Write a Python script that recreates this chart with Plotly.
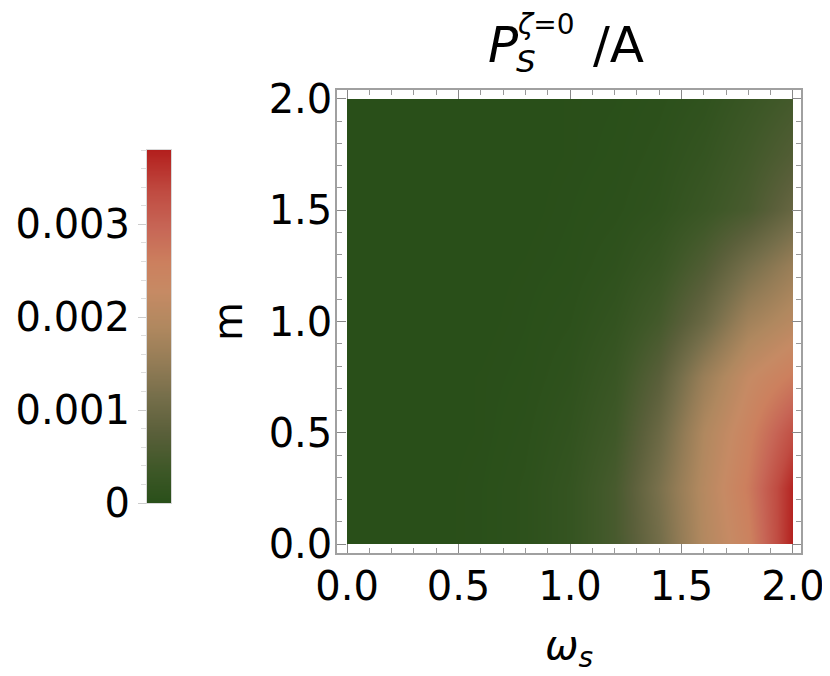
import numpy as np
import plotly.graph_objects as go

# grid, P_S / A in units of 1e-3
omega_s = [0.0, 0.2, 0.4, 0.6, 0.8, 1.0, 1.2, 1.4, 1.6, 1.8, 2.0]
m_vals = [0.0, 0.25, 0.5, 0.75, 1.0, 1.25, 1.5, 1.75, 2.0]
p_rows = [
    [0, 0, 0, 0.02, 0.07, 0.20, 0.50, 1.10, 1.95, 2.50, 3.80],  # m = 0
    [0, 0, 0, 0.02, 0.07, 0.20, 0.50, 1.20, 2.00, 2.65, 3.75],  # m = 0.25
    [0, 0, 0, 0.01, 0.05, 0.15, 0.38, 1.00, 1.90, 2.50, 3.30],  # m = 0.5
    [0, 0, 0, 0.01, 0.03, 0.10, 0.28, 0.75, 1.60, 2.25, 2.65],  # m = 0.75
    [0, 0, 0, 0.00, 0.02, 0.06, 0.18, 0.45, 1.00, 1.70, 2.05],  # m = 1.0
    [0, 0, 0, 0.00, 0.01, 0.03, 0.10, 0.26, 0.62, 1.15, 1.60],  # m = 1.25
    [0, 0, 0, 0.00, 0.00, 0.02, 0.05, 0.12, 0.30, 0.52, 0.95],  # m = 1.5
    [0, 0, 0, 0.00, 0.00, 0.01, 0.03, 0.08, 0.20, 0.40, 0.65],  # m = 1.75
    [0, 0, 0, 0.00, 0.00, 0.01, 0.02, 0.05, 0.12, 0.28, 0.45],  # m = 2.0
]
p_scale = 1e-3
z_max = 0.0038

cbar_tickvals = [0, 0.001, 0.002, 0.003]
cbar_ticktext = ["0", "0.001", "0.002", "0.003"]
axis_ticks = [0.0, 0.5, 1.0, 1.5, 2.0]

colorscale = [
    [0.0, "#294f19"], [0.1, "#3f5828"], [0.2, "#5a5f3a"], [0.3, "#756e4a"],
    [0.4, "#947c56"], [0.5, "#b0885f"], [0.6, "#c68a64"], [0.68, "#cc805e"],
    [0.78, "#c76656"], [0.88, "#c04c42"], [1.0, "#b31f1d"],
]

# the page puts the plot 8px in from the corner, so the figure is a bit smaller
OFF = 8
W, H = 830 - OFF, 676 - OFF
FONT = "DejaVu Sans"


def px_x(p):
    return (p - OFF) / W


def px_y(p):
    return 1 - (p - OFF) / H


z = np.array(p_rows) * p_scale

fig = go.Figure()

# the density itself, on its own axes so it is clipped to [0, 2]
fig.add_trace(go.Heatmap(
    x=omega_s, y=m_vals, z=z, zmin=0, zmax=z_max, zsmooth="best",
    colorscale=colorscale, showscale=False, hoverinfo="skip",
    xaxis="x", yaxis="y"))

# empty trace so the frame axes get drawn
fig.add_trace(go.Scatter(x=[], y=[], xaxis="x2", yaxis="y2", showlegend=False))

# colour bar drawn as a thin heatmap so its labels can sit on the left
levels = np.linspace(0, z_max, 300)
fig.add_trace(go.Heatmap(
    x=[0], y=levels, z=levels.reshape(-1, 1), zmin=0, zmax=z_max,
    zsmooth="best", colorscale=colorscale, showscale=False,
    hoverinfo="skip", xaxis="x3", yaxis="y3"))

frame_col = "#a0a0a0"
tick_font = dict(family=FONT, size=40, color="black")

fig.update_layout(
    width=W, height=H,
    margin=dict(l=0, r=0, t=0, b=0, pad=0),
    paper_bgcolor="white", plot_bgcolor="rgba(0,0,0,0)",
    showlegend=False,
    font=dict(family=FONT, color="black"),
    xaxis=dict(domain=[px_x(347), px_x(793)], range=[0, 2], visible=False,
               anchor="y", automargin=False),
    yaxis=dict(domain=[px_y(544), px_y(99)], range=[0, 2], visible=False,
               anchor="x", automargin=False),
    xaxis2=dict(domain=[px_x(337), px_x(801)], range=[-0.045, 2.036],
                anchor="y2", showline=True, linecolor=frame_col, linewidth=1.5,
                mirror="allticks", ticks="inside", ticklen=9, tickwidth=1.2,
                tickcolor="#888888", tickvals=axis_ticks,
                ticktext=["%.1f" % t for t in axis_ticks],
                minor=dict(dtick=0.1, tick0=0, ticks="inside", ticklen=5,
                           tickcolor="#999999", showgrid=False),
                showgrid=False, zeroline=False, tickfont=tick_font,
                ticklabelstandoff=-3, automargin=False),
    yaxis2=dict(domain=[px_y(553), px_y(90)], range=[-0.0404, 2.0404],
                anchor="x2", showline=True, linecolor=frame_col, linewidth=1.5,
                mirror="allticks", ticks="inside", ticklen=9, tickwidth=1.2,
                tickcolor="#888888", tickvals=axis_ticks,
                ticktext=["%.1f" % t for t in axis_ticks],
                minor=dict(dtick=0.1, tick0=0, ticks="inside", ticklen=5,
                           tickcolor="#999999", showgrid=False),
                showgrid=False, zeroline=False, tickfont=tick_font,
                ticklabelstandoff=-5, automargin=False),
    xaxis3=dict(domain=[px_x(147), px_x(171)], range=[-0.5, 0.5],
                anchor="y3", showline=True, mirror=True, linecolor="#d8d8d8",
                showticklabels=False, ticks="", showgrid=False, zeroline=False,
                automargin=False),
    yaxis3=dict(domain=[px_y(503), px_y(150)], range=[0, z_max],
                anchor="x3", side="left", showline=True, mirror=True,
                linecolor="#d8d8d8", ticks="outside", ticklen=8,
                tickcolor="#cccccc", tickvals=cbar_tickvals,
                ticktext=cbar_ticktext,
                minor=dict(dtick=0.0002, tick0=0, ticks="outside", ticklen=5,
                           tickcolor="#dddddd", showgrid=False),
                showgrid=False, zeroline=False, tickfont=tick_font,
                automargin=False),
)

# title P_S^{zeta=0}/A, pieces stacked like the original
title_bits = [
    ("<i>P</i>", 50, 521, 45, "right"),
    ("<i>ζ</i>=0", 28, 515, 25, "left"),
    ("<i>S</i>", 31, 514, 61, "left"),
    ("/A", 50, 591, 45, "left"),
]
for txt, size, x, y, anchor in title_bits:
    fig.add_annotation(text=txt, xref="paper", yref="paper", x=px_x(x), y=px_y(y),
                       xanchor=anchor, yanchor="middle", showarrow=False,
                       font=dict(family=FONT, size=size, color="black"))

fig.add_annotation(text="<i>ω</i><sub><i>s</i></sub>", xref="paper", yref="paper",
                   x=px_x(569), y=px_y(648), xanchor="center", yanchor="middle",
                   showarrow=False, font=dict(family=FONT, size=40, color="black"))
fig.add_annotation(text="m", xref="paper", yref="paper", textangle=-90,
                   x=px_x(228), y=px_y(322), xanchor="center", yanchor="middle",
                   showarrow=False, font=dict(family=FONT, size=40, color="black"))

fig.write_html("out.html")
